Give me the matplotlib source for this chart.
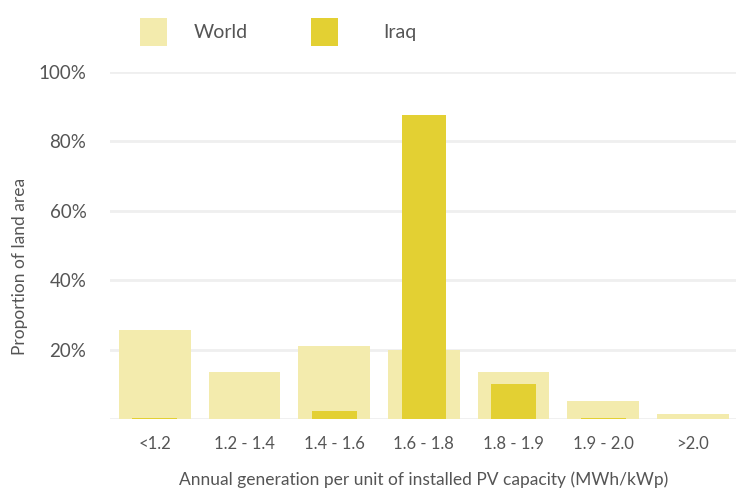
import numpy as np
import matplotlib.pyplot as plt

plt.rcParams['font.family'] = ['Lato', 'DejaVu Sans']

# categories and values (% of land area)
categories = ["<1.2", "1.2 - 1.4", "1.4 - 1.6", "1.6 - 1.8", "1.8 - 1.9", "1.9 - 2.0", ">2.0"]
world = [25.6, 13.5, 21.0, 19.9, 13.5, 5.2, 1.4]
iraq = [0.2, 0.1, 2.3, 87.6, 10.1, 0.2, 0.0]

world_color = "#F3EBAD"
iraq_color = "#E3D033"
text_color = "#555555"

fig = plt.figure(figsize=(7.36, 4.91), dpi=100)
ax = fig.add_axes([0.1495, 0.1466, 0.853, 0.7068])

x = np.arange(len(categories))
b_world = ax.bar(x, world, width=0.8, color=world_color, label="World", zorder=2)
b_iraq = ax.bar(x, iraq, width=0.5, color=iraq_color, label="Iraq", zorder=3)

ax.set_xlim(-0.5, 6.5)
ax.set_ylim(0, 100)
ax.set_yticks([0, 20, 40, 60, 80, 100])
ax.set_yticklabels(["", "20%", "40%", "60%", "80%", "100%"])
ax.set_xticks(x)
ax.set_xticklabels(categories)
ax.grid(axis="y", color="#EFEFEF", linewidth=2, zorder=0)
ax.set_axisbelow(True)
for s in ax.spines.values():
    s.set_visible(False)
ax.tick_params(axis="both", length=0, colors=text_color)
ax.tick_params(axis="y", labelsize=13.5, pad=17)
ax.tick_params(axis="x", labelsize=12, pad=12)

ax.set_xlabel("Annual generation per unit of installed PV capacity (MWh/kWp)",
              fontsize=12.5, color=text_color, labelpad=14)
ax.set_ylabel("Proportion of land area", fontsize=12.5, color=text_color)
ax.yaxis.set_label_coords(-0.13, 0.44)

# legend: two separate entries
leg1 = ax.legend([b_world], ["World"], loc="upper left", bbox_to_anchor=(0.02, 1.205),
                 frameon=False, fontsize=14, labelcolor=text_color, handlelength=1.4,
                 handleheight=1.8, handletextpad=1.35)
ax.add_artist(leg1)
ax.legend([b_iraq], ["Iraq"], loc="upper left", bbox_to_anchor=(0.292, 1.205),
          frameon=False, fontsize=14, labelcolor=text_color, handlelength=1.4,
          handleheight=1.8, handletextpad=2.3)

fig.savefig("out.png", dpi=100)
